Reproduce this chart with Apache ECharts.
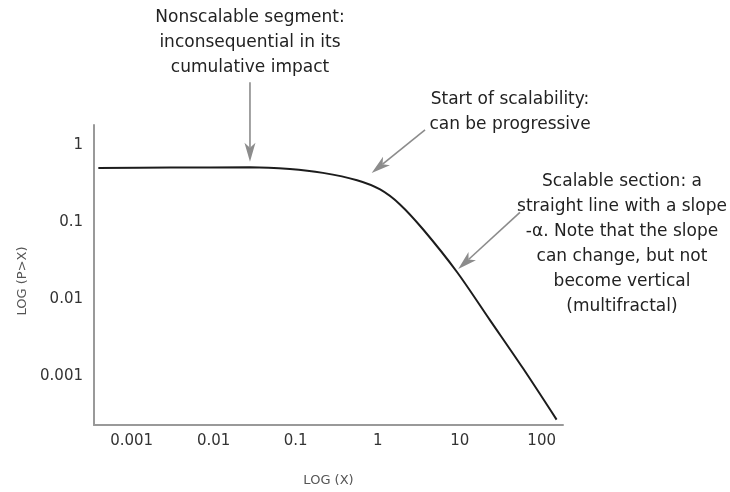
<!DOCTYPE html>
<html>
<head>
<meta charset="utf-8">
<script src="https://cdn.jsdelivr.net/npm/echarts@6/dist/echarts.min.js"></script>
<style>html,body{margin:0;padding:0;background:#fff}#c{width:730px;height:492px}</style>
</head>
<body>
<div id="c"></div>
<script>
// ---- data (real values; plotted on log10 scales) ----
const curveX = [0.000392, 0.003, 0.0277, 0.0851, 0.215, 0.560, 1.07, 1.87, 3.57, 9.27, 23.4, 59.2, 152];
const curveP = [0.501, 0.507, 0.512, 0.486, 0.433, 0.348, 0.264, 0.169, 0.0805, 0.0225, 0.00535, 0.00127, 0.000275];
const xTickValues = [0.001, 0.01, 0.1, 1, 10, 100];
const xTickLabels = ['0.001', '0.01', '0.1', '1', '10', '100'];
const yTickValues = [1, 0.1, 0.01, 0.001];
const yTickLabels = ['1', '0.1', '0.01', '0.001'];
const xRange = [0.000347, 182];
const yRange = [0.000234, 1.807];
const arrowFrom = [[0.0277, 6.47], [3.78, 1.56], [54.3, 0.133]];
const arrowTo = [[0.0277, 0.604], [0.845, 0.432], [9.6, 0.0246]];
const noteTexts = [
  'Nonscalable segment:\ninconsequential in its\ncumulative impact',
  'Start of scalability:\ncan be progressive',
  'Scalable section: a\nstraight line with a slope\n-α. Note that the slope\ncan change, but not\nbecome vertical\n(multifractal)'
];
const xName = 'LOG (X)';
const yName = 'LOG (P>X)';

const L10 = Math.log10;
const FONT = '"DejaVu Sans", sans-serif';

function labelFor(values, labels) {
  return function (v) {
    for (let i = 0; i < values.length; i++) {
      if (Math.abs(L10(values[i]) - v) < 1e-6) return labels[i];
    }
    return '';
  };
}

const chart = echarts.init(document.getElementById('c'), null, {renderer: 'canvas'});

const notePos = [
  {x: 250, y: 5.5},
  {x: 510, y: 87.5},
  {x: 622, y: 169.5}
];

chart.setOption({
  animation: false,
  backgroundColor: '#fff',
  grid: {left: 94, right: 167, top: 125, bottom: 65, containLabel: false},
  xAxis: {
    type: 'value',
    min: L10(xRange[0]),
    max: L10(xRange[1]),
    name: xName,
    nameLocation: 'middle',
    nameGap: 49,
    nameTextStyle: {fontFamily: FONT, fontSize: 13, color: '#555'},
    axisLine: {show: true, onZero: false, lineStyle: {color: '#999', width: 2}},
    axisTick: {show: false},
    splitLine: {show: false},
    axisLabel: {
      customValues: xTickValues.map(L10),
      formatter: labelFor(xTickValues, xTickLabels),
      margin: 9,
      fontFamily: FONT, fontSize: 15, color: '#333'
    }
  },
  yAxis: {
    type: 'value',
    min: L10(yRange[0]),
    max: L10(yRange[1]),
    name: yName,
    nameLocation: 'middle',
    nameGap: 64,
    nameRotate: 90,
    nameTextStyle: {fontFamily: FONT, fontSize: 13, color: '#555', padding: [0, 12, 0, 0]},
    axisLine: {show: true, onZero: false, lineStyle: {color: '#999', width: 2}},
    axisTick: {show: false},
    splitLine: {show: false},
    axisLabel: {
      customValues: yTickValues.map(L10),
      formatter: labelFor(yTickValues, yTickLabels),
      margin: 11,
      fontFamily: FONT, fontSize: 15, color: '#333'
    }
  },
  series: [
    {
      type: 'line',
      data: curveX.map((x, i) => [L10(x), L10(curveP[i])]),
      smooth: 0.3,
      showSymbol: false,
      symbol: 'none',
      clip: false,
      lineStyle: {color: '#1c1c1c', width: 2},
      silent: true,
      z: 4
    },
    {
      type: 'custom',
      silent: true,
      clip: false,
      z: 3,
      data: arrowFrom.map((f, i) => [L10(f[0]), L10(f[1]), L10(arrowTo[i][0]), L10(arrowTo[i][1])]),
      encode: {x: [0, 2], y: [1, 3]},
      renderItem: function (params, api) {
        const a = api.coord([api.value(0), api.value(1)]);
        const b = api.coord([api.value(2), api.value(3)]);
        const dx = b[0] - a[0], dy = b[1] - a[1];
        const len = Math.hypot(dx, dy);
        const ux = dx / len, uy = dy / len;
        const px = -uy, py = ux;
        const HL = 19, HW = 5.5, NOTCH = 5;
        const base = [b[0] - ux * HL, b[1] - uy * HL];
        const inner = [b[0] - ux * (HL - NOTCH), b[1] - uy * (HL - NOTCH)];
        const col = '#8c8c8c';
        return {
          type: 'group',
          children: [
            {type: 'line', shape: {x1: a[0], y1: a[1], x2: inner[0], y2: inner[1]}, style: {stroke: col, lineWidth: 1.6}},
            {type: 'polygon', shape: {points: [b, [base[0] + px * HW, base[1] + py * HW], inner, [base[0] - px * HW, base[1] - py * HW]]}, style: {fill: col}}
          ]
        };
      }
    }
  ],
  graphic: noteTexts.map((t, i) => ({
    type: 'text',
    silent: true,
    x: notePos[i].x,
    y: notePos[i].y,
    style: {
      text: t,
      align: 'center',
      verticalAlign: 'top',
      font: '17px ' + FONT,
      lineHeight: 25,
      fill: '#222'
    }
  }))
});
</script>
</body>
</html>
